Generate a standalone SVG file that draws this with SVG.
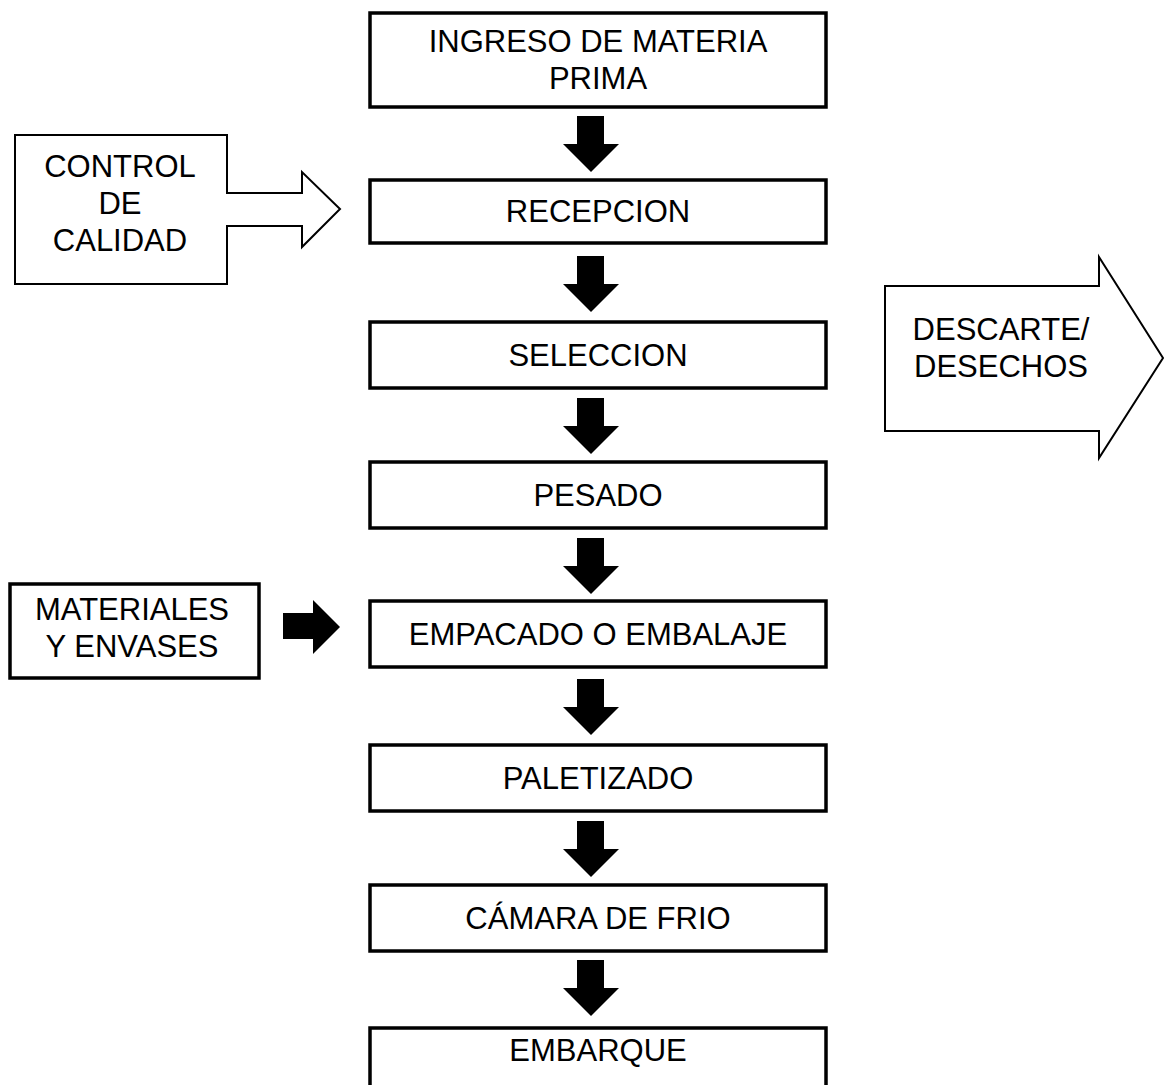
<svg xmlns="http://www.w3.org/2000/svg" width="1165" height="1085" viewBox="0 0 1165 1085">
  <defs>
    <style>
      .box { fill: #ffffff; stroke: #000000; stroke-width: 3.5; }
      .thin { fill: #ffffff; stroke: #000000; stroke-width: 2; stroke-linejoin: miter; }
      .lbl { font-family: "Liberation Sans", Arial, sans-serif; font-size: 31px; fill: #000000; text-anchor: middle; }
      .blk { fill: #000000; stroke: none; }
    </style>
    <polygon id="down" points="-14,0 13,0 13,28 28,28 0,56 -28,28 -14,28"/>
  </defs>
  <rect width="1165" height="1085" fill="#ffffff"/>

  <g id="connectors">
    <use href="#down" class="blk" x="591" y="116"/>
    <use href="#down" class="blk" x="591" y="256"/>
    <use href="#down" class="blk" x="591" y="398"/>
    <use href="#down" class="blk" x="591" y="538"/>
    <use href="#down" class="blk" x="591" y="679"/>
    <use href="#down" class="blk" x="591" y="821"/>
    <use href="#down" class="blk" x="591" y="960"/>
    <polygon class="blk" points="283,613 313,613 313,600 340,627 313,654 313,639 283,639"/>
  </g>

  <g id="n-ingreso">
    <rect class="box" x="370" y="13" width="456" height="94"/>
    <text class="lbl" x="598" y="52">INGRESO DE MATERIA</text>
    <text class="lbl" x="598" y="89">PRIMA</text>
  </g>
  <g id="n-recepcion">
    <rect class="box" x="370" y="180" width="456" height="63"/>
    <text class="lbl" x="598" y="222">RECEPCION</text>
  </g>
  <g id="n-seleccion">
    <rect class="box" x="370" y="322" width="456" height="66"/>
    <text class="lbl" x="598" y="366">SELECCION</text>
  </g>
  <g id="n-pesado">
    <rect class="box" x="370" y="462" width="456" height="66"/>
    <text class="lbl" x="598" y="506">PESADO</text>
  </g>
  <g id="n-empacado">
    <rect class="box" x="370" y="601" width="456" height="66"/>
    <text class="lbl" x="598" y="645">EMPACADO O EMBALAJE</text>
  </g>
  <g id="n-paletizado">
    <rect class="box" x="370" y="745" width="456" height="66"/>
    <text class="lbl" x="598" y="789">PALETIZADO</text>
  </g>
  <g id="n-camara">
    <rect class="box" x="370" y="885" width="456" height="66"/>
    <text class="lbl" x="598" y="929">CÁMARA DE FRIO</text>
  </g>
  <g id="n-embarque">
    <rect class="box" x="370" y="1028" width="456" height="90"/>
    <text class="lbl" x="598" y="1061">EMBARQUE</text>
  </g>

  <g id="n-control">
    <polygon class="thin" points="15,135 227,135 227,193 302,193 302,172 340,209 302,247 302,226 227,226 227,284 15,284"/>
    <text class="lbl" x="120" y="177">CONTROL</text>
    <text class="lbl" x="120" y="214">DE</text>
    <text class="lbl" x="120" y="251">CALIDAD</text>
  </g>

  <g id="n-descarte">
    <polygon class="thin" points="885,286 1099,286 1099,257 1163,358 1099,458 1099,431 885,431"/>
    <text class="lbl" x="1001" y="340">DESCARTE/</text>
    <text class="lbl" x="1001" y="377">DESECHOS</text>
  </g>

  <g id="n-materiales">
    <rect class="box" x="10" y="584" width="249" height="94"/>
    <text class="lbl" x="132" y="620">MATERIALES</text>
    <text class="lbl" x="132" y="657">Y ENVASES</text>
  </g>
</svg>
